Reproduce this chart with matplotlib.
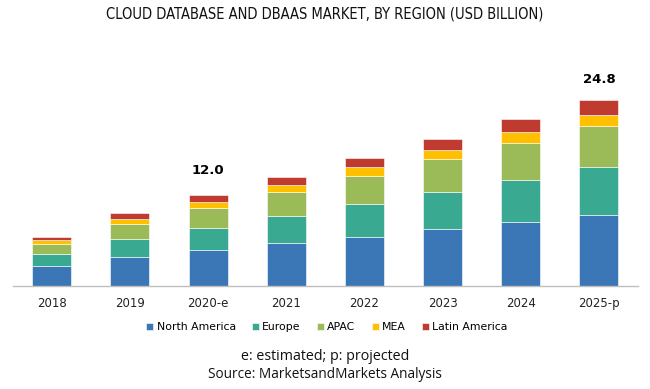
import matplotlib
matplotlib.use("Agg")
import matplotlib.pyplot as plt
from matplotlib import font_manager as fm

years = ["2018", "2019", "2020-e", "2021", "2022", "2023", "2024", "2025-p"]
north_america = [2.63, 3.79, 4.67, 5.69, 6.53, 7.56, 8.44, 9.37]
europe = [1.60, 2.40, 3.02, 3.64, 4.31, 4.93, 5.69, 6.40]
apac = [1.33, 2.00, 2.58, 3.12, 3.73, 4.35, 4.89, 5.47]
mea = [0.49, 0.67, 0.80, 0.98, 1.20, 1.25, 1.47, 1.56]
latin_america = [0.44, 0.75, 0.93, 1.07, 1.25, 1.51, 1.68, 1.96]
series_names = ["North America", "Europe", "APAC", "MEA", "Latin America"]
colors = ["#3B77B6", "#3AA991", "#9BBB59", "#FFC000", "#BF3A2F"]
label_years = ["2020-e", "2025-p"]
label_texts = ["12.0", "24.8"]

names = {f.name for f in fm.fontManager.ttflist}
condensed = [f for f in fm.fontManager.ttflist if f.name == "DejaVu Sans" and f.stretch in ("condensed", "semi-condensed", 500 - 100)]
if "Liberation Sans Narrow" in names:
    title_kw = dict(family="Liberation Sans Narrow", fontsize=12)
elif condensed:
    title_kw = dict(family="DejaVu Sans", stretch="condensed", fontsize=10.5)
else:
    title_kw = dict(family="Liberation Sans", fontsize=10)

fig = plt.figure(figsize=(6.5, 3.89), dpi=100)
ax = fig.add_axes([12.7 / 650, (389 - 285.5) / 389, (638 - 12.7) / 650, 225 / 389])

series = [north_america, europe, apac, mea, latin_america]
x = list(range(len(years)))
bottom = [0.0] * len(years)
handles = []
for name, vals, c in zip(series_names, series, colors):
    b = ax.bar(x, vals, width=0.5, bottom=bottom, color=c, edgecolor="white",
               linewidth=0.4, label=name)
    handles.append(b)
    bottom = [bi + vi for bi, vi in zip(bottom, vals)]

totals = bottom
offsets = [19, 14]
for yr, txt, off in zip(label_years, label_texts, offsets):
    i = years.index(yr)
    ax.annotate(txt, (i, totals[i]), xytext=(0, off * 72 / 100), textcoords="offset points",
                ha="center", va="bottom", fontsize=9.5, fontweight="bold",
                family="DejaVu Sans")

ax.set_xlim(-0.5, 7.5)
ax.set_ylim(0, 30)
for s in ["top", "right", "left"]:
    ax.spines[s].set_visible(False)
ax.spines["bottom"].set_color("#BFBFBF")
ax.spines["bottom"].set_linewidth(1.0)
ax.set_yticks([])
ax.set_xticks(x)
ax.set_xticklabels(years, fontsize=8.5, family="DejaVu Sans", color="#222222")
ax.tick_params(axis="x", length=0, pad=8)

fig.text(0.5, 1 - 14 / 389, "CLOUD DATABASE AND DBAAS MARKET, BY REGION (USD BILLION)",
         ha="center", va="center", color="#111111", **title_kw)

leg = fig.legend(handles=handles, labels=series_names, loc="center",
                 bbox_to_anchor=(327 / 650, 1 - 327 / 389), ncol=5, frameon=False,
                 handlelength=0.65, handleheight=0.65, handletextpad=0.3,
                 columnspacing=1.5, prop={"family": "DejaVu Sans", "size": 7.8})

fig.text(0.5, 1 - 357 / 389, "e: estimated; p: projected", ha="center", va="center",
         fontsize=10.3, family="Open Sans", color="#111111")
fig.text(0.5, 1 - 375 / 389, "Source: MarketsandMarkets Analysis", ha="center", va="center",
         fontsize=9.8, family="Open Sans", color="#111111")

fig.savefig("out.png", dpi=100)
